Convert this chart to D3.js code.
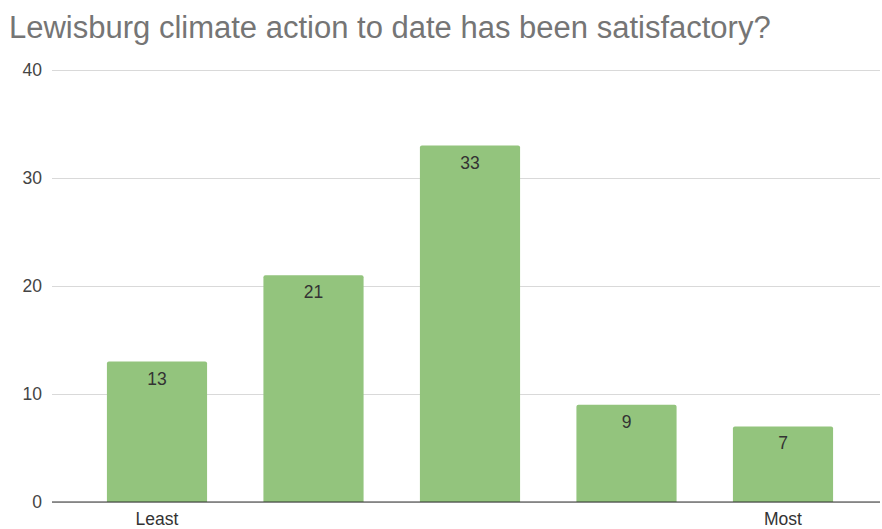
<!DOCTYPE html>
<html><head><meta charset="utf-8">
<script src="https://cdn.jsdelivr.net/npm/d3@7"></script>
<style>body{margin:0;background:#fff}svg{display:block}</style>
</head><body>
<svg id="c" width="882" height="529"></svg>
<script>
const title = "Lewisburg climate action to date has been satisfactory?";
const categories = ["1", "2", "3", "4", "5"];
const tickLabels = ["Least", "", "", "", "Most"];
const values = [13, 21, 33, 9, 7];
const yTicks = [0, 10, 20, 30, 40];

const svg = d3.select("#c");
const W = 882, H = 529;
const FONT = "Liberation Sans, Arial, sans-serif";
const m = {left: 52, right: 2, top: 70, bottom: 27};
const x = d3.scaleBand().domain(categories).range([78.75, 861.25]).paddingInner(0.36).paddingOuter(0.18);
const y = d3.scaleLinear().domain([0, 40]).range([H - m.bottom, m.top]);

svg.append("text").attr("x", 9).attr("y", 38)
  .attr("font-family", FONT).attr("font-size", 31)
  .attr("fill", "#757575").text(title);

const gy = svg.append("g").attr("transform", `translate(${m.left},0)`)
  .call(d3.axisLeft(y).tickValues(yTicks).tickSize(-(W - m.left - m.right)).tickPadding(10).tickFormat(d3.format("d")));
gy.select(".domain").remove();
gy.selectAll(".tick line").attr("stroke", "#d9d9d9").attr("stroke-width", 1.2);
gy.selectAll(".tick text").attr("font-family", FONT).attr("font-size", 17.5).attr("fill", "#444");

svg.append("g").selectAll("path").data(values).join("path")
  .attr("fill", "#93c47d")
  .attr("d", (d, i) => {
    const x0 = x(categories[i]), w = x.bandwidth(), y0 = y(d), y1 = y(0), r = 2;
    return `M${x0},${y1}V${y0 + r}Q${x0},${y0} ${x0 + r},${y0}H${x0 + w - r}Q${x0 + w},${y0} ${x0 + w},${y0 + r}V${y1}Z`;
  });

svg.append("line").attr("x1", m.left).attr("x2", W - m.right).attr("y1", y(0)).attr("y2", y(0))
  .attr("stroke", "#333").attr("stroke-width", 1.2);

svg.append("g").selectAll("text").data(values).join("text")
  .attr("x", (d, i) => x(categories[i]) + x.bandwidth() / 2)
  .attr("y", d => y(d) + 23)
  .attr("text-anchor", "middle")
  .attr("font-family", FONT).attr("font-size", 17.5).attr("fill", "#333")
  .text(d => d);

const gx = svg.append("g").attr("transform", `translate(0,${y(0)})`)
  .call(d3.axisBottom(x).tickSize(0).tickPadding(11).tickFormat((d, i) => tickLabels[i]));
gx.select(".domain").remove();
gx.selectAll(".tick text").attr("font-family", FONT).attr("font-size", 17.5).attr("fill", "#333");
</script>
</body></html>
